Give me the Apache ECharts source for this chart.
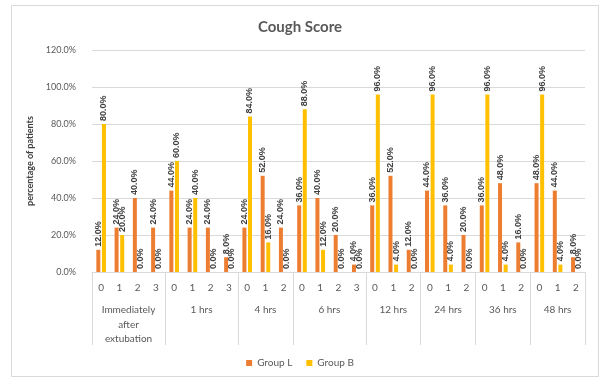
<!DOCTYPE html>
<html>
<head>
<meta charset="utf-8">
<script src="https://cdn.jsdelivr.net/npm/echarts@6/dist/echarts.min.js"></script>
<style>
html,body{margin:0;padding:0;background:#fff;}
#c{width:600px;height:377px;}
</style>
</head>
<body>
<div id="c"></div>
<script>
// ---- data ----
const scoreLabels = ['0','1','2','3', '0','1','2','3', '0','1','2', '0','1','2','3', '0','1','2', '0','1','2', '0','1','2', '0','1','2'];
const groupNames = ['Immediately\nafter\nextubation', '1 hrs', '4 hrs', '6 hrs', '12 hrs', '24 hrs', '36 hrs', '48 hrs'];
const groupSizes = [4, 4, 3, 4, 3, 3, 3, 3];
const groupL = [12, 24, 40, 24,  44, 24, 24, 8,  24, 52, 24,  36, 40, 20, 4,  36, 52, 12,  44, 36, 20,  36, 48, 16,  48, 44, 8];
const groupB = [80, 20, 0, 0,    60, 40, 0, 0,   84, 16, 0,   88, 12, 0, 0,   96, 4, 0,    96, 4, 0,    96, 4, 0,    96, 4, 0];
const yTicks = [0, 20, 40, 60, 80, 100, 120];

// group boundaries and centers (in category units)
const bounds = [0];
groupSizes.forEach(s => bounds.push(bounds[bounds.length - 1] + s));
const centers = groupNames.map((_, i) => (bounds[i] + bounds[i + 1]) / 2);

const FONT = 'Lato, "Open Sans", sans-serif';
const labelOpt = {
  show: true, position: 'top', rotate: 90, align: 'left', verticalAlign: 'middle',
  distance: 3, fontSize: 9, fontWeight: 'bold', color: '#404040', fontFamily: 'Liberation Sans',
  formatter: p => p.value.toFixed(1) + '%'
};

const chart = echarts.init(document.getElementById('c'));
chart.setOption({
  animation: false,
  title: {
    text: 'Cough Score', left: 'center', top: 15,
    textStyle: { fontSize: 15, fontWeight: 'bold', color: '#595959', fontFamily: FONT }
  },
  graphic: [{
    type: 'rect', left: 9, top: 3, shape: { width: 587, height: 371 },
    style: { fill: 'none', stroke: '#d9d9d9', lineWidth: 1 }, silent: true
  }],
  legend: {
    bottom: 4, left: 'center', icon: 'rect', itemWidth: 6, itemHeight: 6, itemGap: 14,
    textStyle: { fontSize: 10, color: '#595959', fontFamily: FONT },
    data: ['Group L', 'Group B']
  },
  grid: { left: 92, right: 15, top: 50, bottom: 105, containLabel: false },
  xAxis: [{
    type: 'category', data: scoreLabels, position: 'bottom',
    axisLine: { show: true, lineStyle: { color: '#d9d9d9' } },
    axisTick: { show: false },
    axisLabel: { margin: 11, fontSize: 10, color: '#595959', fontFamily: FONT, interval: 0 }
  }, {
    type: 'value', min: 0, max: bounds[bounds.length - 1], position: 'bottom',
    axisLine: { show: false },
    splitLine: { show: false },
    axisTick: { show: true, customValues: bounds, length: 73, lineStyle: { color: '#d9d9d9' } },
    axisLabel: {
      customValues: centers, margin: 31, fontSize: 10, lineHeight: 14.5, color: '#595959', fontFamily: FONT,
      formatter: v => { const i = centers.indexOf(v); return i >= 0 ? groupNames[i] : ''; }
    }
  }],
  yAxis: {
    type: 'value', min: 0, max: 120, interval: 20,
    name: 'percentage of patients', nameLocation: 'middle', nameGap: 55,
    nameTextStyle: { fontSize: 9, fontWeight: 'bold', color: '#404040', fontFamily: FONT },
    axisLine: { show: false }, axisTick: { show: false },
    axisLabel: { fontSize: 9, color: '#595959', margin: 16, fontFamily: FONT, formatter: v => v.toFixed(1) + '%' },
    splitLine: { lineStyle: { color: '#d9d9d9' } }
  },
  series: [{
    name: 'Group L', type: 'bar', xAxisIndex: 0, data: groupL, barWidth: 4, barGap: '40%',
    itemStyle: { color: '#ED7D31' }, label: labelOpt
  }, {
    name: 'Group B', type: 'bar', xAxisIndex: 0, data: groupB, barWidth: 4, barGap: '40%',
    itemStyle: { color: '#FFC000' }, label: labelOpt
  }]
});
</script>
</body>
</html>
